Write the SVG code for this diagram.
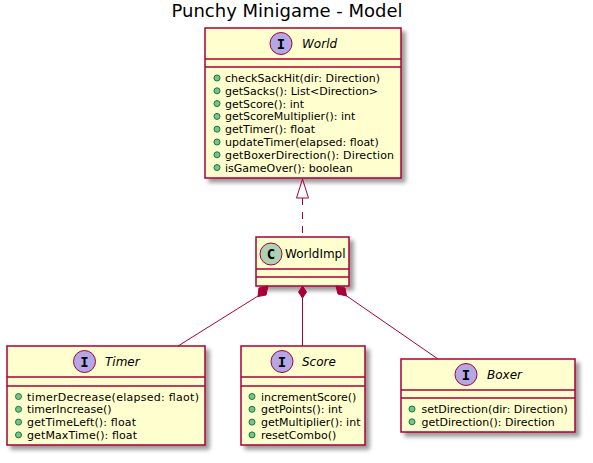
<svg xmlns="http://www.w3.org/2000/svg" width="593" height="463" viewBox="0 0 593 463">
<style>
.box{fill:#FEFECE;stroke:#A80036;stroke-width:1.5}
.sep{stroke:#A80036;stroke-width:1.5}
.ci{fill:#B4A7E5;stroke:#A80036;stroke-width:1}
.cc{fill:#ADD1B2;stroke:#A80036;stroke-width:1}
.lt{font-family:"DejaVu Sans Mono",monospace;font-weight:bold;font-size:14px;fill:#000;text-anchor:middle}
.name{font-family:"DejaVu Sans",sans-serif;font-size:12px;fill:#000}
.it{font-style:italic}
.m{font-family:"DejaVu Sans",sans-serif;font-size:11px;fill:#000}
.b{fill:#84BE84;stroke:#038048;stroke-width:1}
.ln{stroke:#A80036;stroke-width:1;fill:none}
.title{font-family:"DejaVu Sans",sans-serif;font-size:18px;fill:#000;text-anchor:middle}
</style>
<defs>
<filter id="sh" x="-10%" y="-10%" width="130%" height="130%">
<feGaussianBlur in="SourceAlpha" stdDeviation="2"/>
<feOffset dx="4" dy="4" result="o"/>
<feComponentTransfer><feFuncA type="linear" slope="0.4"/></feComponentTransfer>
<feMerge><feMergeNode/><feMergeNode in="SourceGraphic"/></feMerge>
</filter>
</defs>
<text class="title" x="287" y="17">Punchy Minigame - Model</text>

<g id="World">
<rect class="box" x="205" y="28" width="196" height="150" filter="url(#sh)"/>
<circle class="ci" cx="281" cy="43.5" r="11"/>
<text class="lt" x="281" y="48.5">I</text>
<text class="name it" x="302" y="47.5">World</text>
<line class="sep" x1="205" y1="59" x2="401" y2="59"/>
<line class="sep" x1="205" y1="67" x2="401" y2="67"/>
<circle class="b" cx="217" cy="78" r="3"/><text class="m" x="225" y="82" textLength="155" lengthAdjust="spacing">checkSackHit(dir: Direction)</text>
<circle class="b" cx="217" cy="90.8" r="3"/><text class="m" x="225" y="94.8">getSacks(): List&lt;Direction&gt;</text>
<circle class="b" cx="217" cy="103.6" r="3"/><text class="m" x="225" y="107.6">getScore(): int</text>
<circle class="b" cx="217" cy="116.4" r="3"/><text class="m" x="225" y="120.4">getScoreMultiplier(): int</text>
<circle class="b" cx="217" cy="129.2" r="3"/><text class="m" x="225" y="133.2">getTimer(): float</text>
<circle class="b" cx="217" cy="142" r="3"/><text class="m" x="225" y="146">updateTimer(elapsed: float)</text>
<circle class="b" cx="217" cy="154.8" r="3"/><text class="m" x="225" y="158.8" textLength="169" lengthAdjust="spacing">getBoxerDirection(): Direction</text>
<circle class="b" cx="217" cy="167.6" r="3"/><text class="m" x="225" y="171.6">isGameOver(): boolean</text>
</g>

<g id="WorldImpl">
<rect class="box" x="256" y="237" width="93" height="49" filter="url(#sh)"/>
<circle class="cc" cx="271" cy="254" r="11"/>
<text class="lt" x="271" y="259">C</text>
<text class="name" x="285" y="258">WorldImpl</text>
<line class="sep" x1="256" y1="269" x2="349" y2="269"/>
<line class="sep" x1="256" y1="277" x2="349" y2="277"/>
</g>

<g id="Timer">
<rect class="box" x="7" y="346" width="198" height="99" filter="url(#sh)"/>
<circle class="ci" cx="84.5" cy="361.5" r="11"/>
<text class="lt" x="84.5" y="366.5">I</text>
<text class="name it" x="105" y="365.5">Timer</text>
<line class="sep" x1="7" y1="377" x2="205" y2="377"/>
<line class="sep" x1="7" y1="386" x2="205" y2="386"/>
<circle class="b" cx="18.5" cy="396.5" r="3"/><text class="m" x="27" y="400.5" textLength="172" lengthAdjust="spacing">timerDecrease(elapsed: flaot)</text>
<circle class="b" cx="18.5" cy="409.3" r="3"/><text class="m" x="27" y="413.3">timerIncrease()</text>
<circle class="b" cx="18.5" cy="422.1" r="3"/><text class="m" x="27" y="426.1" textLength="109" lengthAdjust="spacing">getTimeLeft(): float</text>
<circle class="b" cx="18.5" cy="434.9" r="3"/><text class="m" x="27" y="438.9" textLength="110" lengthAdjust="spacing">getMaxTime(): float</text>
</g>

<g id="Score">
<rect class="box" x="241" y="346" width="124" height="99" filter="url(#sh)"/>
<circle class="ci" cx="282" cy="361.5" r="11"/>
<text class="lt" x="282" y="366.5">I</text>
<text class="name it" x="302" y="365.5">Score</text>
<line class="sep" x1="241" y1="377" x2="365" y2="377"/>
<line class="sep" x1="241" y1="386" x2="365" y2="386"/>
<circle class="b" cx="252" cy="396.5" r="3"/><text class="m" x="261" y="400.5">incrementScore()</text>
<circle class="b" cx="252" cy="409.3" r="3"/><text class="m" x="261" y="413.3">getPoints(): int</text>
<circle class="b" cx="252" cy="422.1" r="3"/><text class="m" x="261" y="426.1">getMultiplier(): int</text>
<circle class="b" cx="252" cy="434.9" r="3"/><text class="m" x="261" y="438.9">resetCombo()</text>
</g>

<g id="Boxer">
<rect class="box" x="401" y="359" width="174" height="73" filter="url(#sh)"/>
<circle class="ci" cx="466" cy="374.5" r="11"/>
<text class="lt" x="466" y="379.5">I</text>
<text class="name it" x="487" y="378.5">Boxer</text>
<line class="sep" x1="401" y1="390" x2="575" y2="390"/>
<line class="sep" x1="401" y1="398" x2="575" y2="398"/>
<circle class="b" cx="412" cy="409" r="3"/><text class="m" x="421.5" y="413">setDirection(dir: Direction)</text>
<circle class="b" cx="412" cy="421.8" r="3"/><text class="m" x="421.5" y="425.8">getDirection(): Direction</text>
</g>

<g id="connectors">
<line class="ln" x1="302.5" y1="198" x2="302.5" y2="237" stroke-dasharray="7,7"/>
<polygon points="302.5,179 296.5,198 308.5,198" fill="none" stroke="#A80036" stroke-width="1"/>
<line class="ln" x1="258" y1="296" x2="178" y2="346"/>
<polygon points="268,286 266,295 258,296.5 259,288" fill="#A80036" stroke="#A80036" stroke-width="1"/>
<line class="ln" x1="302.5" y1="298" x2="302.5" y2="346"/>
<polygon points="302.5,286 306.5,292 302.5,298 298.5,292" fill="#A80036" stroke="#A80036" stroke-width="1"/>
<line class="ln" x1="346" y1="295.5" x2="438" y2="359"/>
<polygon points="336,286 345,288 346.5,296 338,294" fill="#A80036" stroke="#A80036" stroke-width="1"/>
</g>
</svg>
